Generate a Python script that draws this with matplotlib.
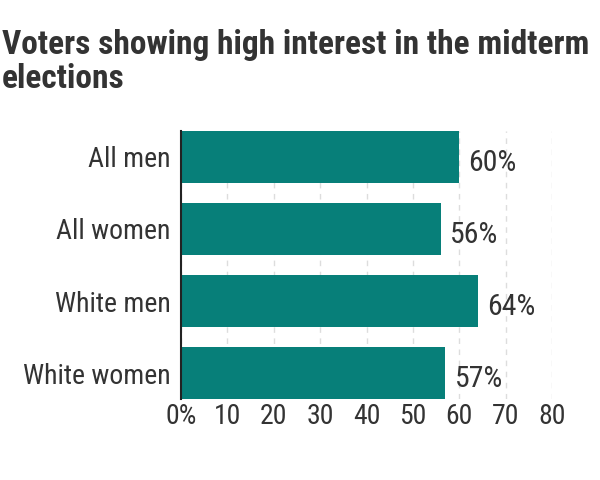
import matplotlib
matplotlib.use('Agg')
from matplotlib import pyplot as plt

groups = ['All men', 'All women', 'White men', 'White women']
values = [60, 56, 64, 57]
ticks = [0, 10, 20, 30, 40, 50, 60, 70, 80]
tick_labels = ['0%', '10', '20', '30', '40', '50', '60', '70', '80']

plt.rcParams['font.family'] = ['Roboto Condensed', 'DejaVu Sans']

teal = '#077f79'
txt = '#333333'

fig = plt.figure(figsize=(6, 4.8), dpi=100)
ax = fig.add_axes([181/600, 81/480, 371/600, 268/480])

ax.barh(range(len(groups)), values, height=0.722, color=teal, zorder=2)
for i, v in enumerate(values):
    ax.text(v + 2.0, i + 0.19, '{}%'.format(v), va='baseline', ha='left',
            fontsize=21.5, color=txt)

ax.set_ylim(3.361, -0.361)
ax.set_xlim(0, 80)
ax.set_yticks(range(len(groups)))
ax.set_yticklabels(groups, fontsize=20, color=txt)
ax.set_xticks(ticks)
ax.set_xticklabels(tick_labels, fontsize=20, color=txt)
ax.tick_params(axis='y', length=0, pad=7.5)
ax.tick_params(axis='x', length=0, pad=3)
ax.xaxis.grid(True, linestyle=(0, (4, 4)), color='#dddddd', linewidth=1, zorder=0)
for s in ['top', 'right', 'bottom']:
    ax.spines[s].set_visible(False)
ax.spines['left'].set_color('#222222')
ax.spines['left'].set_linewidth(1.5)
ax.spines['left'].set_zorder(3)

fig.text(0.003, 0.94, 'Voters showing high interest in the midterm\nelections',
         fontsize=24, fontweight='bold', color=txt, va='top', ha='left',
         linespacing=1.1)

fig.savefig('out.png', dpi=100)
